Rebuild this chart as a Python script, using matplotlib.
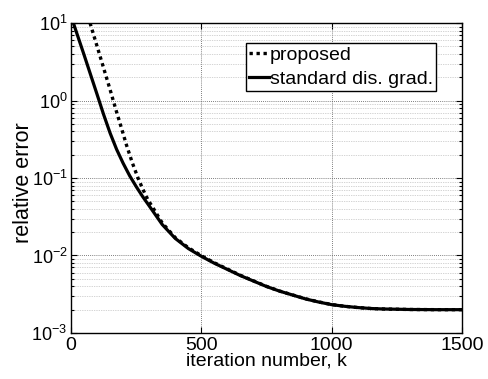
import matplotlib
matplotlib.use("Agg")
import matplotlib.pyplot as plt
from matplotlib.ticker import LogLocator, NullFormatter

plt.rcParams['font.family'] = ['Liberation Sans', 'DejaVu Sans']
plt.rcParams['mathtext.fontset'] = 'custom'
plt.rcParams['mathtext.rm'] = 'Liberation Sans'
plt.rcParams['mathtext.it'] = 'Liberation Sans'

# standard discrete gradient (relative error vs iteration)
k_std = [9, 50, 100, 125, 150, 175, 200, 225, 250, 275, 300, 350, 400, 450,
         500, 550, 600, 650, 700, 750, 800, 850, 900, 950, 1000, 1050, 1100,
         1150, 1200, 1300, 1400, 1500]
err_std = [10.0, 3.89, 1.20, 0.661, 0.380, 0.234, 0.155, 0.107, 0.0776,
           0.0575, 0.0437, 0.0251, 0.0166, 0.0123, 0.00977, 0.00794, 0.00661,
           0.00550, 0.00468, 0.00398, 0.00347, 0.00309, 0.00275, 0.00251,
           0.00232, 0.00221, 0.00213, 0.00207, 0.00204, 0.00201, 0.00200,
           0.00200]

# proposed
k_prop = [73, 100, 125, 150, 162, 175, 196, 213, 235, 257, 275, 296, 310, 330,
          350, 400, 450, 500, 550, 600, 650, 700, 750, 800, 850, 900, 950,
          1000, 1050, 1100, 1150, 1200, 1300, 1400, 1500]
err_prop = [10.0, 5.01, 2.63, 1.38, 1.0, 0.708, 0.414, 0.265, 0.158, 0.100,
            0.0724, 0.0516, 0.0437, 0.0339, 0.0263, 0.0170, 0.0126, 0.00995,
            0.00805, 0.00668, 0.00555, 0.00471, 0.00400, 0.00348, 0.00310,
            0.00276, 0.00252, 0.00233, 0.00221, 0.00213, 0.00207, 0.00204,
            0.00201, 0.00200, 0.00200]

x_ticks = [0, 500, 1000, 1500]

fig = plt.figure(figsize=(4.88, 3.79), dpi=100)
ax = fig.add_axes([0.1455, 0.1214, 0.8012, 0.8179])

ax.semilogy(k_prop, err_prop, color='black', linestyle=(0, (1, 1.1)), lw=2.4,
            label='proposed')
ax.semilogy(k_std, err_std, color='black', linestyle='-', lw=2.3,
            label='standard dis. grad.')

ax.set_xlim(0, 1500)
ax.set_ylim(1e-3, 1e1)
ax.set_xticks(x_ticks)
ax.set_xticklabels([str(t) for t in x_ticks])
ax.yaxis.set_major_locator(LogLocator(base=10, numticks=10))
ax.yaxis.set_minor_locator(LogLocator(base=10, subs=range(2, 10), numticks=20))
ax.yaxis.set_minor_formatter(NullFormatter())

ax.grid(True, which='major', color='#555555', linestyle=(0, (1, 1.5)), lw=0.6)
ax.grid(True, which='minor', axis='y', color='#aaaaaa', linestyle=(0, (1, 1.5)), lw=0.5)

ax.tick_params(which='both', direction='in', top=True, right=True, width=0.8)
ax.tick_params(axis='x', labelsize=14, pad=3)
ax.tick_params(axis='y', labelsize=13, pad=2.5)
ax.tick_params(which='major', length=4)
ax.tick_params(which='minor', length=2)
for s in ax.spines.values():
    s.set_linewidth(1.0)

ax.set_xlabel('iteration number, k', fontsize=14, labelpad=-1)
ax.set_ylabel('relative error', fontsize=15.5)
ax.yaxis.set_label_coords(-0.095, 0.484)

leg = ax.legend(loc='upper right', bbox_to_anchor=(0.9335, 0.935), fontsize=14,
                handlelength=1.05, handletextpad=0.05, borderpad=0.3,
                labelspacing=0.35, borderaxespad=0, fancybox=False,
                framealpha=1, edgecolor='black')
leg._legend_box.pad = 2
leg.get_frame().set_linewidth(1.0)

fig.savefig('out.png', dpi=100)
